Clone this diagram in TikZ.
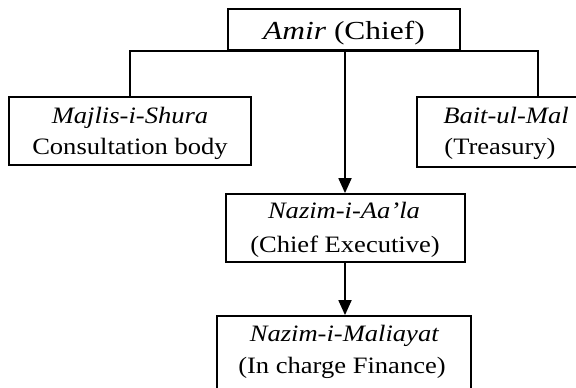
\documentclass[tikz,border=0pt]{standalone}
\usepackage{fontspec}
\setmainfont{Liberation Serif}[FakeStretch=1.13]
\newfontfamily\amirfont{Liberation Serif}[FakeStretch=1.21]
\usetikzlibrary{arrows.meta}
\begin{document}
\begin{tikzpicture}[x=1pt,y=-1pt,
  orgbox/.style={draw=black,line width=1.8pt,rectangle,inner sep=0pt},
  lbl/.style={anchor=base,inner sep=0pt,font=\fontsize{23.5}{28}\selectfont},
  biglbl/.style={anchor=base,inner sep=0pt,font=\amirfont\fontsize{26}{30}\selectfont},
  conn/.style={line width=1.8pt},
  arr/.style={line width=1.8pt,-{Triangle[length=15pt,width=13pt]}}]
\useasboundingbox (0,0) rectangle (576,388);
\clip (0,0) rectangle (576,388);
\fill[white] (0,0) rectangle (576,388);
% boxes
\node[orgbox,minimum width=232pt,minimum height=41pt] (amir) at (344,29.5) {};
\node[orgbox,minimum width=242pt,minimum height=68pt] (majlis) at (130,131) {};
\node[orgbox,minimum width=173pt,minimum height=70pt] (bait) at (503.5,132) {};
\node[orgbox,minimum width=239pt,minimum height=68pt] (nazim) at (345.5,228) {};
\node[orgbox,minimum width=254pt,minimum height=90pt] (mali) at (344,361) {};
% texts
\node[biglbl] (amirT) at (344,39.3) {\textit{Amir} (Chief)};
\node[lbl] (majlisA) at (130,123) {\textit{Majlis-i-Shura}};
\node[lbl] (majlisB) at (130,154) {Consultation body};
\node[lbl] (baitA) at (506,123) {\textit{Bait-ul-Mal}};
\node[lbl] (baitB) at (500,154) {(Treasury)};
\node[lbl] (nazimA) at (344,218) {\textit{Nazim-i-Aa’la}};
\node[lbl] (nazimB) at (345,252) {(Chief Executive)};
\node[lbl] (maliA) at (344.5,341) {\textit{Nazim-i-Maliayat}};
\node[lbl] (maliB) at (342,373) {(In charge Finance)};
% connectors
\coordinate (bj) at (538,97);
\draw[conn] (majlis.north) |- (bj |- amir.south) -- (bj);
\draw[arr] (345,50) -- (nazim.north -| 345,0);
\draw[arr] (nazim.south -| 345,0) -- (mali.north -| 345,0);
\end{tikzpicture}
\end{document}
